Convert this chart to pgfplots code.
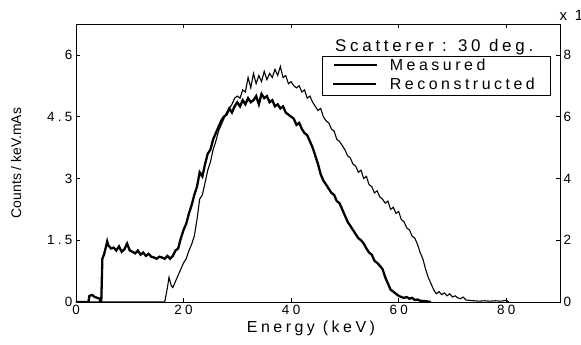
\documentclass[border=0pt]{standalone}
\usepackage{pgfplots}
\pgfplotsset{compat=1.18}
\usepackage{fontspec}
\setmainfont{Liberation Sans}
\newfontfamily\spaced[LetterSpace=22]{Liberation Sans}
\newfontfamily\spacedb[LetterSpace=22]{Liberation Sans}
\newfontfamily\spacedt[LetterSpace=25]{Liberation Sans}
\begin{document}
\begin{tikzpicture}
\begin{axis}[
  at={(0,0)}, anchor=south west,
  scale only axis, width=484bp, height=278bp,
  xmin=0, xmax=90, ymin=0, ymax=6.75,
  xtick={0,20,40,60,80}, xticklabels={0,20,40,60,80},
  ytick={0,1.5,3,4.5,6}, yticklabels={0,1.5,3,4.5,6},
  xtick pos=both, ytick pos=left, tick align=inside,
  major tick length=4bp,
  tick style={black, line width=0.7bp},
  axis line style={line width=0.9bp},
  ticklabel style={font=\fontsize{13.5}{14}\spacedt},
  xticklabel style={yshift=0bp},
  xlabel={Energy (keV)},
  xlabel style={font=\fontsize{16}{16}\spaced, yshift=1bp, xshift=-7bp},
  ylabel={Counts / keV.mAs},
  ylabel style={font=\fontsize{14}{14}\selectfont, yshift=19bp},
]
\addplot[black, line width=2.3bp] coordinates {
(0,0) (2.3,0) (2.5,0.15) (3,0.17) (3.5,0.12) (4,0.1) (4.4,0.08) (4.5,0) (4.7,0) (4.9,1.05)
(5.2,1.15) (5.5,1.3) (5.8,1.47) (6,1.38) (6.5,1.3) (7,1.32) (7.5,1.25) (8,1.35) (8.5,1.22)
(9,1.28) (9.5,1.42) (10,1.25) (10.5,1.22) (11,1.18) (11.5,1.25) (12,1.15) (12.5,1.2)
(13,1.12) (13.5,1.17) (14,1.1) (14.5,1.08) (15,1.05) (15.5,1.1) (16,1.08) (16.5,1.05)
(17,1.12) (17.5,1.05) (18,1.12) (18.5,1.25) (19,1.3) (19.5,1.55) (20,1.75) (20.5,1.9)
(21,2.15) (21.5,2.35) (22,2.6) (22.5,2.8) (23,3.15) (23.5,3.05) (24,3.35) (24.5,3.6)
(25,3.7) (25.5,3.95) (26,4.1) (26.5,4.25) (27,4.4) (27.5,4.5) (28,4.55) (28.5,4.7)
(29,4.6) (29.5,4.75) (30,4.85) (30.5,4.75) (31,4.9) (31.5,4.8) (32,4.95) (32.5,4.85)
(33,4.9) (33.5,5.0) (34,4.8) (34.5,5.05) (35,4.95) (35.5,5.0) (36,4.85) (36.5,4.9)
(37,4.75) (37.5,4.8) (38,4.7) (38.5,4.75) (39,4.6) (39.5,4.55) (40,4.5) (40.5,4.45)
(41,4.3) (41.5,4.35) (42,4.2) (42.5,4.1) (43,4.05) (43.5,3.9) (44,3.75) (44.5,3.55)
(45,3.35) (45.5,3.1) (46,2.95) (46.5,2.85) (47,2.75) (47.5,2.65) (48,2.6) (48.5,2.45)
(49,2.4) (49.5,2.25) (50,2.1) (50.5,1.95) (51,1.85) (51.5,1.75) (52,1.65) (52.5,1.55)
(53,1.5) (53.5,1.42) (54,1.3) (54.5,1.2) (55,1.15) (55.5,1.0) (56,0.95) (56.5,0.88)
(57,0.8) (57.5,0.6) (58,0.45) (58.5,0.3) (59,0.25) (59.5,0.2) (60,0.15) (60.5,0.12)
(61,0.1) (61.5,0.12) (62,0.08) (62.5,0.1) (63,0.05) (63.5,0.06) (64,0.03) (65,0.02) (66,0)
};
\addplot[black, line width=1.1bp] coordinates {
(0,0) (16.5,0) (17,0.35) (17.3,0.6) (17.7,0.4) (18,0.35) (18.5,0.5) (19,0.65) (19.5,0.8)
(20,0.95) (20.5,1.05) (21,1.25) (21.5,1.4) (22,1.6) (22.5,2.0) (23,2.5) (23.5,2.6)
(24,2.9) (24.5,3.2) (25,3.4) (25.5,3.7) (26,3.9) (26.5,4.15) (27,4.3) (27.5,4.45)
(28,4.6) (28.5,4.7) (29,4.8) (29.5,4.95) (30,5.0) (30.5,4.95) (31,5.15) (31.5,5.1)
(32,5.45) (32.5,5.2) (33,5.55) (33.5,5.3) (34,5.5) (34.5,5.35) (35,5.6) (35.5,5.4)
(36,5.55) (36.5,5.45) (37,5.65) (37.5,5.5) (38,5.72) (38.5,5.45) (39,5.5) (39.5,5.3)
(40,5.35) (40.5,5.25) (41,5.2) (41.5,5.25) (42,5.1) (42.5,5.15) (43,4.95) (43.5,5.0)
(44,4.85) (44.5,4.75) (45,4.65) (45.5,4.7) (46,4.5) (46.5,4.4) (47,4.35) (47.5,4.2)
(48,4.15) (48.5,3.95) (49,3.9) (49.5,3.8) (50,3.7) (50.5,3.55) (51,3.5) (51.5,3.35)
(52,3.3) (52.5,3.15) (53,3.2) (53.5,3.0) (54,3.05) (54.5,2.85) (55,2.8) (55.5,2.65)
(56,2.7) (56.5,2.55) (57,2.5) (57.5,2.4) (58,2.45) (58.5,2.25) (59,2.3) (59.5,2.15)
(60,2.2) (60.5,2.0) (61,1.95) (61.5,1.8) (62,1.75) (62.5,1.6) (63,1.55) (63.5,1.4)
(64,1.2) (64.5,1.05) (65,0.8) (65.5,0.6) (66,0.45) (66.5,0.3) (67,0.2) (67.5,0.25)
(68,0.18) (68.5,0.22) (69,0.15) (69.5,0.2) (70,0.12) (70.5,0.15) (71,0.1) (71.5,0.08)
(72,0.12) (72.5,0.05) (73,0.04) (74,0.03) (75,0.02) (76,0.03) (77,0.02) (78,0.03)
(79,0.02) (80,0.04) (80.5,0)
};
\node[anchor=base east, font=\fontsize{17}{17}\spaced] at (rel axis cs:0.952,0.9) {Scatterer : 30 deg.};
\node[anchor=north east, draw=black, line width=0.9bp, fill=white,
      inner xsep=10bp, inner ysep=0.5bp, font=\fontsize{16}{19}\spacedb]
  at (rel axis cs:0.982,0.885)
  {\begin{tabular}{@{}l@{\hspace{12bp}}l@{\hspace{6bp}}}
   \tikz[baseline=-0.6ex]\draw[black, line width=2.3bp] (0bp,0bp) -- (43bp,0bp); & Measured\\
   \tikz[baseline=-0.6ex]\draw[black, line width=1.1bp] (0bp,0bp) -- (43bp,0bp); & Reconstructed
   \end{tabular}};
\end{axis}
\begin{axis}[
  at={(0,0)}, anchor=south west,
  scale only axis, width=484bp, height=278bp,
  xmin=0, xmax=90, ymin=0, ymax=9,
  axis x line=none, axis y line*=right,
  ytick={0,2,4,6,8}, yticklabels={0,2,4,6,8},
  tick align=inside, major tick length=4bp,
  tick style={black, line width=0.7bp},
  axis line style={line width=0.9bp},
  ticklabel style={font=\fontsize{13.5}{14}\spacedt},
  clip=false,
]
\node[anchor=west, font=\fontsize{15}{15}\spacedt] at ([xshift=-4bp, yshift=10bp]rel axis cs:1,1) {x 10$^{4}$};
\end{axis}
\pgfresetboundingbox
\useasboundingbox (-76bp,-43bp) rectangle (505bp,302bp);
\end{tikzpicture}
\end{document}
